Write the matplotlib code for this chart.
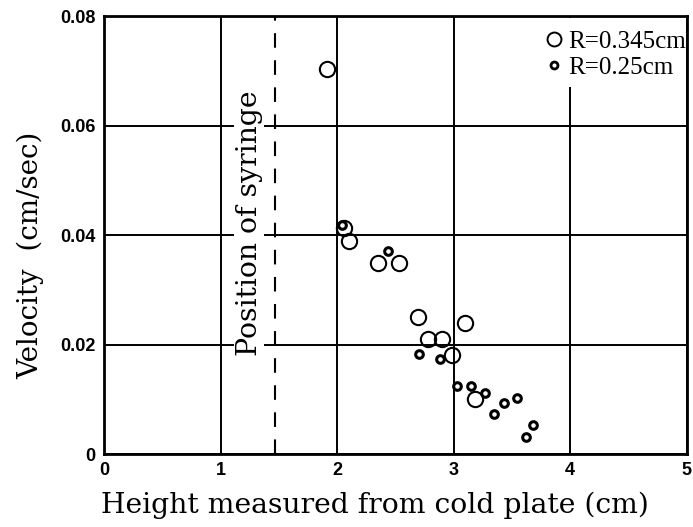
import matplotlib
matplotlib.use("Agg")
import matplotlib.pyplot as plt
from matplotlib.lines import Line2D
from matplotlib.patches import Rectangle

# Data
large_x = [1.91, 2.06, 2.10, 2.35, 2.53, 2.69, 3.10, 2.78, 2.90, 2.99, 3.18]
large_y = [0.0703, 0.0413, 0.0390, 0.0349, 0.0349, 0.0250, 0.0240, 0.0211, 0.0211, 0.0181, 0.0100]
small_x = [2.04, 2.44, 2.70, 2.88, 3.03, 3.15, 3.27, 3.35, 3.43, 3.54, 3.68, 3.62]
small_y = [0.0418, 0.0371, 0.0182, 0.0173, 0.0124, 0.0124, 0.0111, 0.0073, 0.0093, 0.0102, 0.0053, 0.0031]
x_ticks = [0, 1, 2, 3, 4, 5]
y_ticks = [0, 0.02, 0.04, 0.06, 0.08]
y_tick_labels = ["0", "0.02", "0.04", "0.06", "0.08"]
syringe_x = 1.47
label_large = "R=0.345cm"
label_small = "R=0.25cm"

serif = ["DejaVu Serif"]
legserif = ["Liberation Serif", "DejaVu Serif"]
tickfont = ["Liberation Sans Narrow", "Liberation Sans", "DejaVu Sans"]

fig = plt.figure(figsize=(6.93, 5.27), dpi=100)
ax = fig.add_axes([0.150, 0.1385, 0.841, 0.831])
ax.set_xlim(0, 5)
ax.set_ylim(0, 0.08)

ax.set_xticks(x_ticks)
ax.set_xticklabels([str(t) for t in x_ticks], family=tickfont, fontweight="bold", fontsize=13)
ax.set_yticks(y_ticks)
ax.set_yticklabels(y_tick_labels, family=tickfont, fontweight="bold", fontsize=13)
ax.tick_params(length=0, pad=6)
ax.grid(True, color="black", linewidth=1.4)
ax.set_axisbelow(True)
for s in ax.spines.values():
    s.set_linewidth(2)
    s.set_color("black")

ax.axvline(syringe_x, color="black", linewidth=1.5, dashes=(7, 6), zorder=2)

ax.text(1.245, 0.0422, "Position of syringe", rotation=90, family=serif, fontsize=20.4,
        ha="center", va="center", zorder=3,
        bbox=dict(facecolor="white", edgecolor="none", pad=1))

ax.plot(large_x, large_y, linestyle="none", marker="o", markersize=11,
        markerfacecolor="none", markeredgecolor="black", markeredgewidth=1.5, zorder=4)
ax.plot(small_x, small_y, linestyle="none", marker="o", markersize=5.5,
        markerfacecolor="white", markeredgecolor="black", markeredgewidth=2.2, zorder=4)

# white area behind the legend (masks the upper part of the x=4 grid line)
ax.add_patch(Rectangle((0.748, 0.838), 0.248, 0.158, transform=ax.transAxes,
                       facecolor="white", edgecolor="none", zorder=1))

handles = [
    Line2D([], [], linestyle="none", marker="o", markersize=10, markerfacecolor="none",
           markeredgecolor="black", markeredgewidth=1.4),
    Line2D([], [], linestyle="none", marker="o", markersize=5, markerfacecolor="white",
           markeredgecolor="black", markeredgewidth=2.0),
]
leg = ax.legend(handles, [label_large, label_small], loc="upper right",
                bbox_to_anchor=(1.012, 0.985),
                prop=dict(family=legserif, size=18), frameon=False,
                handlelength=0.6, handletextpad=0.3, labelspacing=0.15,
                borderpad=0.3, borderaxespad=0.0)

ax.set_xlabel("Height measured from cold plate (cm)", family=serif, fontsize=20.3, labelpad=8)
ax.xaxis.set_label_coords(0.465, -0.085)
ax.set_ylabel("Velocity  (cm/sec)", family=serif, fontsize=20, labelpad=10)
ax.yaxis.set_label_coords(-0.102, 0.454)

fig.savefig("out.png", dpi=100)
